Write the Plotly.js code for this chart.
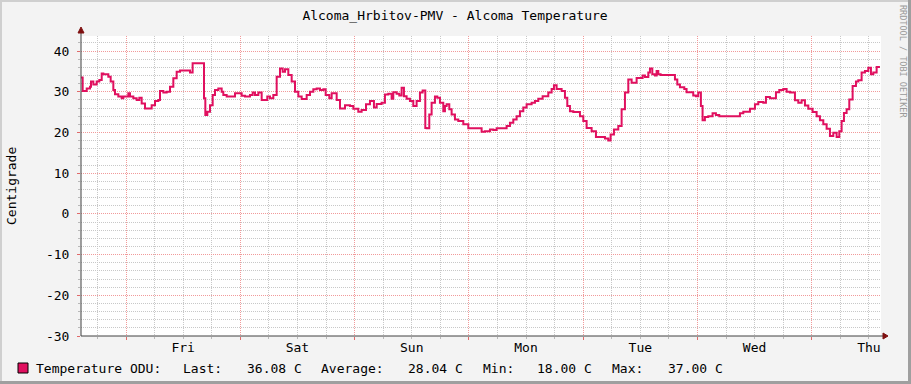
<!DOCTYPE html>
<html>
<head>
<meta charset="utf-8">
<script src="https://cdn.plot.ly/plotly-3.0.1.min.js"></script>
<style>
html,body{margin:0;padding:0;background:#F3F3F3;}
#chart{width:911px;height:384px;}
</style>
</head>
<body>
<div id="chart"></div>
<script>
// ---- data (hours since Friday 00:00, temperature in °C) ----
const hours = [
-9.5,-9.1,-8.25,-7.56,-7.35,-6.86,-6.16,-5.6,-5.1,-4.76,-3.71,-3.22,-2.66,-2.31,-1.61,-0.91,-0.56,
0.49,0.84,1.54,2.24,2.80,3.29,3.99,5.39,6.09,6.79,7.14,7.84,8.54,9.24,9.94,10.64,11.34,13.44,13.99,
16.38,16.66,17.08,17.64,18.2,18.69,19.39,20.09,20.44,21.14,22.89,24.29,24.99,26.04,26.6,27.09,27.79,
28.49,29.67,30.24,30.94,31.64,32.34,32.9,33.39,34.09,34.79,35.49,36.19,36.89,37.94,38.64,39.34,40.04,
40.74,41.44,41.93,42.69,43.19,44.24,44.94,45.99,
47.03,47.74,48.78,49.48,50.4,51.23,52.07,52.64,53.68,54.38,55.08,55.78,56.13,56.83,57.39,57.88,58.37,
58.93,59.63,60.33,61.03,61.73,62.29,62.85,63.13,63.69,64.18,64.88,65.37,65.93,66.63,66.98,67.33,67.89,
68.38,69.08,69.78,70.83,71.88,74.68,75.38,76.43,77.13,77.83,79.93,80.63,81.33,82.03,82.73,83.43,84.13,
85.18,85.88,86.58,87.49,88.68,89.38,89.87,90.43,91.48,92.18,92.67,93.23,93.93,95.33,96.03,96.73,97.78,
98.69,100.58,101.28,101.77,102.47,103.38,104.08,104.78,105.48,106.18,107.23,
107.93,108.49,108.98,109.68,110.03,110.52,111.08,111.43,111.78,112.27,115.28,115.77,116.33,117.24,
117.72,119.12,119.68,120.17,120.73,121.08,121.57,122.27,123.18,123.88,124.58,128.93,129.63,131.03,
132.08,132.78,133.83,134.39,135.23,136.49,137.19,138.03,138.73,139.43,140.48,141.18,141.88,142.58,
143.28,144.19,145.03,145.73,146.43,147.13,147.83,148.53,149.23,149.79,150.28,150.77,151.33,151.89,
152.59,153.29,153.78,154.48,155.18,155.88,156.44,156.93,157.63,158.33
];
const tempC = [
33.5,30.2,30.8,31.2,32.5,31.8,32.5,32.9,34.5,34.3,33.7,32.5,30.4,29.4,28.8,28.4,28.8,
29.6,28.8,28.4,28.0,28.5,27.1,25.9,26.7,27.7,28.0,30.2,29.8,30.0,31.2,33.3,34.9,35.2,34.7,37.0,
28.4,24.3,25.1,26.7,29.2,30.4,30.8,30.0,29.2,28.8,29.6,29.0,28.8,29.2,29.8,29.2,29.8,
28.0,28.8,28.4,29.2,33.7,35.7,34.9,35.5,34.1,32.5,30.0,28.8,28.2,29.2,30.0,30.6,30.8,
30.4,30.6,29.2,28.4,29.6,28.0,25.9,26.7,
26.5,25.8,25.1,25.5,26.9,27.7,26.1,27.0,27.3,29.3,29.5,28.3,29.9,29.5,29.1,31.0,28.9,
28.3,27.7,26.5,27.7,29.8,30.3,21.1,21.0,24.4,27.3,28.8,28.5,27.3,25.2,26.5,26.9,25.7,
24.4,23.2,22.8,22.0,21.0,20.2,20.3,20.7,20.6,21.0,21.6,22.4,23.2,24.0,25.2,26.1,26.9,
27.3,27.7,28.3,28.9,29.8,30.7,31.6,30.7,30.2,28.5,26.5,25.2,25.0,24.0,22.8,21.1,20.3,
18.9,18.5,18.0,19.5,20.7,21.6,25.7,29.8,33.0,32.2,33.4,
33.4,34.0,33.6,34.7,35.7,34.3,34.0,35.1,34.3,34.1,33.0,31.8,31.1,30.7,
29.9,29.1,28.9,29.8,26.5,23.0,23.8,24.0,24.7,24.3,24.0,24.7,25.1,25.8,
26.9,27.5,27.3,28.7,28.4,29.9,30.4,30.7,30.0,29.8,27.9,27.3,27.9,26.6,
25.8,25.0,24.0,23.0,22.0,20.9,19.1,19.9,18.9,20.3,22.8,24.8,25.7,28.1,
31.4,32.5,32.8,34.7,35.1,35.9,34.3,34.7,36.1,36.1
];
const dayLabels = ['Fri','Sat','Sun','Mon','Tue','Wed','Thu'];
const dayLabelHours = [12,36,60,84,108,132,156];
const yTickVals = [-30,-20,-10,0,10,20,30,40];
const yTickText = ['-30','-20','-10','0','10','20','30','40'];
const chartTitle = 'Alcoma_Hrbitov-PMV - Alcoma Temperature';
const yTitle = 'Centigrade';
const seriesName = 'Temperature ODU:';
const legendParts = ['Last:','36.08 C','Average:','28.04 C','Min:','18.00 C','Max:','37.00 C'];
const watermark = 'RRDTOOL / TOBI OETIKER';

// ---- layout helpers (pixel -> paper) ----
const W = 911, H = 384, L = 81, R = 30, T = 36, B = 48;
const PW = W - L - R, PH = H - T - B;
const xp = px => (px - L) / PW;
const yp = py => (H - B - py) / PH;

const lineColor = '#E0105F';
const mono = 'DejaVu Sans Mono, Liberation Mono, monospace';
const xRange = [-9.45, 158.55];

const traces = [
  {x: hours, y: tempC, type: 'scatter', mode: 'lines', xaxis: 'x', yaxis: 'y',
   line: {color: lineColor, width: 2, shape: 'hv'}, hoverinfo: 'skip', showlegend: false},
  {x: hours, y: tempC, type: 'scatter', mode: 'lines', xaxis: 'x2', yaxis: 'y',
   line: {color: 'rgba(0,0,0,0)', width: 0}, hoverinfo: 'skip', showlegend: false}
];

const legendX = [181,245,319,406,481,535,610,666];
const annotations = [
  {text: seriesName, xref: 'paper', yref: 'paper', x: xp(34), y: yp(368), xanchor: 'left', yanchor: 'middle', showarrow: false, font: {family: mono, size: 13, color: '#000'}},
  {text: yTitle, xref: 'paper', yref: 'paper', x: xp(11), y: 0.5, textangle: -90, xanchor: 'center', yanchor: 'middle', showarrow: false, font: {family: mono, size: 13, color: '#000'}},
  {text: watermark, xref: 'paper', yref: 'paper', x: xp(903), y: yp(61), textangle: 90, xanchor: 'center', yanchor: 'middle', showarrow: false, font: {family: mono, size: 8.5, color: '#9A9A9A'}}
];
legendParts.forEach((t, i) => annotations.push({
  text: t, xref: 'paper', yref: 'paper', x: xp(legendX[i]), y: yp(368), xanchor: 'left', yanchor: 'middle',
  showarrow: false, font: {family: mono, size: 13, color: '#000'}
}));

const arrowColor = '#7F1010';
const shapes = [
  // frame shading
  {type: 'line', xref: 'paper', yref: 'paper', x0: xp(0), x1: xp(W), y0: yp(1), y1: yp(1), line: {color: '#CFCFCF', width: 2}},
  {type: 'line', xref: 'paper', yref: 'paper', x0: xp(1), x1: xp(1), y0: yp(0), y1: yp(H), line: {color: '#CFCFCF', width: 2}},
  {type: 'line', xref: 'paper', yref: 'paper', x0: xp(909.5), x1: xp(909.5), y0: yp(0), y1: yp(H), line: {color: '#9F9F9F', width: 3}},
  {type: 'line', xref: 'paper', yref: 'paper', x0: xp(0), x1: xp(W), y0: yp(382.5), y1: yp(382.5), line: {color: '#9F9F9F', width: 3}},
  // axes
  {type: 'line', xref: 'paper', yref: 'paper', x0: xp(81), x1: xp(81), y0: yp(336), y1: yp(31), line: {color: '#404040', width: 1}},
  {type: 'line', xref: 'paper', yref: 'paper', x0: xp(81), x1: xp(884), y0: yp(336), y1: yp(336), line: {color: '#404040', width: 1}},
  {type: 'path', xref: 'paper', yref: 'paper',
   path: `M ${xp(78)},${yp(33)} L ${xp(81)},${yp(27)} L ${xp(84)},${yp(33)} Z`, fillcolor: arrowColor, line: {color: arrowColor, width: 1}},
  {type: 'path', xref: 'paper', yref: 'paper',
   path: `M ${xp(883)},${yp(333)} L ${xp(888)},${yp(336)} L ${xp(883)},${yp(339)} Z`, fillcolor: arrowColor, line: {color: arrowColor, width: 1}},
  // legend swatch
  {type: 'rect', xref: 'paper', yref: 'paper', x0: xp(18), x1: xp(28), y0: yp(373), y1: yp(363), fillcolor: lineColor, line: {color: '#000', width: 1}}
];

const layout = {
  width: W, height: H,
  margin: {l: L, r: R, t: T, b: B, pad: 0},
  paper_bgcolor: '#F3F3F3', plot_bgcolor: '#FFFFFF',
  font: {family: mono, size: 13, color: '#000'},
  showlegend: false,
  title: {text: chartTitle, x: 455 / W, xanchor: 'center', y: 1 - 15 / H, yanchor: 'middle', font: {family: mono, size: 13, color: '#000'}},
  xaxis: {range: xRange, tickmode: 'array', tickvals: dayLabelHours, ticktext: dayLabels,
          showgrid: false, zeroline: false, showline: false, ticks: '', ticklabelstandoff: 2,
          tickfont: {family: mono, size: 13, color: '#000'}, fixedrange: true},
  xaxis2: {overlaying: 'x', anchor: 'y', side: 'bottom', range: xRange, tickmode: 'linear', tick0: 0, dtick: 24,
           showticklabels: false, showgrid: true, gridcolor: '#F19A9A', griddash: '1px,1px', gridwidth: 1,
           ticks: 'outside', ticklen: 3, tickcolor: '#E06A6A', zeroline: false, showline: false,
           minor: {tick0: 0, dtick: 6, showgrid: true, gridcolor: '#C8C8C8', griddash: '1px,1px', gridwidth: 1,
                   ticks: 'outside', ticklen: 2, tickcolor: '#B8B8B8'}},
  yaxis: {range: [-30, 43.69], tickmode: 'array', tickvals: yTickVals, ticktext: yTickText,
          showgrid: true, gridcolor: '#F19A9A', griddash: '1px,1px', gridwidth: 1,
          ticks: 'outside', ticklen: 3, tickcolor: '#E06A6A', zeroline: false, showline: false,
          ticklabelstandoff: 5, tickfont: {family: mono, size: 13, color: '#000'},
          minor: {tick0: 0, dtick: 2, showgrid: true, gridcolor: '#C8C8C8', griddash: '1px,1px', gridwidth: 1,
                  ticks: 'outside', ticklen: 2, tickcolor: '#B8B8B8'}},
  shapes: shapes,
  annotations: annotations
};

Plotly.newPlot('chart', traces, layout, {staticPlot: true, displayModeBar: false});
</script>
</body>
</html>
